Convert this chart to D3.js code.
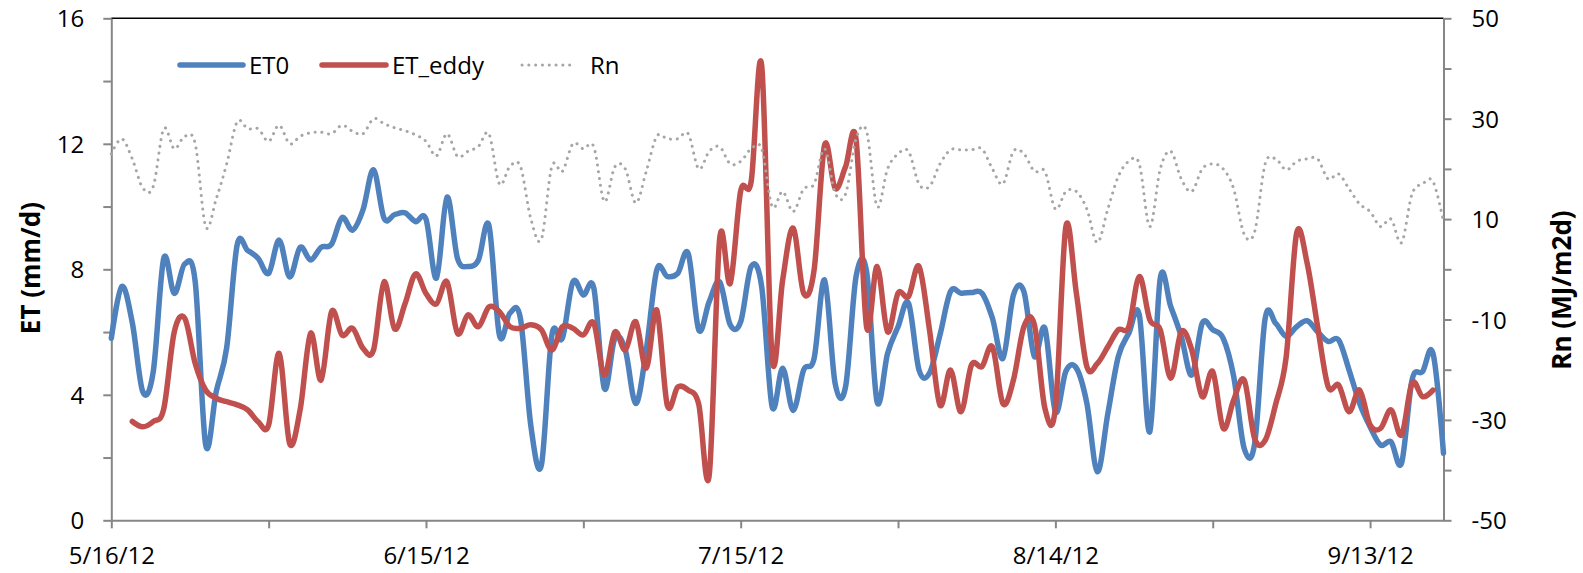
<!DOCTYPE html>
<html>
<head>
<meta charset="utf-8">
<script src="https://cdn.jsdelivr.net/npm/d3@7"></script>
<style>
  body { margin: 0; background: #fff; }
  text { font-family: "Open Sans", "Liberation Sans", sans-serif; fill: #000; }
</style>
</head>
<body>
<svg id="chart" width="1583" height="573"></svg>
<script>
// daily series, 5/16/12 .. 9/20/12
const startDate = Date.UTC(2012, 4, 16);
const endDate = Date.UTC(2012, 8, 20);

const et0 = [
  5.8, 7.45, 6.3, 4.1, 4.74, 8.35, 7.23, 8.17, 7.6, 2.4,
  4.1, 5.5, 8.78, 8.6, 8.35, 7.87, 8.93, 7.76, 8.7, 8.3,
  8.7, 8.8, 9.65, 9.25, 9.9, 11.17, 9.63, 9.74, 9.8, 9.52,
  9.6, 7.72, 10.3, 8.35, 8.09, 8.3, 9.4, 5.9, 6.6, 6.44,
  3.0, 1.76, 5.9, 5.8, 7.6, 7.18, 7.4, 4.2, 5.8, 5.43,
  3.72, 5.43, 7.98, 7.77, 7.87, 8.5, 6.07, 6.97, 7.6, 6.23,
  6.33, 8.09, 7.45, 3.62, 4.85, 3.5, 4.79, 5.16, 7.66, 4.37,
  4.26, 7.77, 7.93, 3.78, 5.32, 6.17, 6.92, 4.79, 4.69, 5.91,
  7.29, 7.24, 7.26, 7.24, 6.44, 5.16, 7.18, 7.29, 5.22, 6.12,
  3.46, 4.75, 4.85, 3.73, 1.55, 3.4, 5.22, 5.96, 6.55, 2.82,
  7.72, 6.81, 5.86, 4.63, 6.28, 6.07, 5.8, 4.58, 2.29, 2.45,
  6.44, 6.28, 5.86, 6.17, 6.36, 6.01, 5.7, 5.75, 4.79, 3.73,
  2.98, 2.4, 2.5, 1.82, 4.47, 4.74, 5.32, 2.14
];

const etEddy = [
  null, null, 3.15, 2.98, 3.15, 3.55, 6.0, 6.44, 5.0, 4.15,
  3.89, 3.78, 3.68, 3.52, 3.14, 3.04, 5.32, 2.45, 3.52, 5.96,
  4.47, 6.65, 5.9, 6.12, 5.48, 5.43, 7.6, 6.1, 6.9, 7.85,
  7.23, 6.9, 7.6, 5.96, 6.55, 6.17, 6.8, 6.65, 6.17, 6.12,
  6.23, 6.07, 5.43, 6.17, 6.12, 5.91, 6.28, 4.63, 6.0, 5.43,
  6.33, 4.85, 6.7, 3.67, 4.25, 4.15, 3.7, 1.44, 8.99, 7.55,
  10.5, 10.8, 14.5, 5.16, 7.66, 9.31, 7.24, 7.98, 11.96, 10.58,
  11.27, 12.13, 6.17, 8.09, 6.01, 7.24, 7.13, 8.09, 6.07, 3.67,
  4.79, 3.46, 4.95, 4.9, 5.53, 3.72, 4.47, 6.17, 6.23, 3.57,
  3.57, 9.36, 7.24, 4.9, 5.0, 5.53, 6.07, 6.17, 7.77, 6.39,
  6.07, 4.53, 6.01, 5.43, 3.94, 4.74, 2.93, 3.84, 4.47, 2.6,
  2.55, 3.7, 5.2, 9.15, 8.2, 6.17, 4.26, 4.31, 3.46, 4.15,
  3.04, 2.93, 3.52, 2.72, 4.37, 3.94, 4.15, null
];

const rn = [
  23, 26, 22, 16.2, 16.5, 28, 24, 26.5, 25, 8.5,
  14, 21, 29.4, 28, 28, 25.5, 28.7, 25, 26.5, 27.2,
  27.3, 27, 28.7, 27.5, 27, 30, 29, 28.2, 27.6, 26.8,
  25.5, 22.6, 27, 22.5, 23.5, 24.5, 27, 17, 20.5, 20.5,
  10, 6, 20.5, 19.5, 25, 24, 24.4, 13.5, 20.4, 20,
  13.2, 19.5, 26.5, 26, 26, 27, 20, 23.5, 24.4, 21,
  21.5, 24, 24, 12.5, 15.5, 11.5, 16, 17, 24, 15.2,
  15, 26, 27.5, 12.5, 20, 23, 23.5, 17, 16.5, 21,
  23.8, 23.8, 23.8, 24, 20, 17, 23.5, 23, 19.5, 19.5,
  12, 15.5, 15.5, 12, 5.3, 12, 18.5, 21.5, 21, 8.5,
  20, 23.5, 18, 15.5, 20, 21, 20, 16, 7, 7.5,
  21, 22, 19.8, 21.5, 22, 22, 18, 19, 16, 13,
  11.5, 8.5, 10, 5.3, 15, 17, 17.5, 9.5
];

const seriesNames = ['ET0', 'ET_eddy', 'Rn'];
const etTicks = [0, 2, 4, 6, 8, 10, 12, 14, 16];
const rnTicks = [-50, -40, -30, -20, -10, 0, 10, 20, 30, 40, 50];

const svg = d3.select('#chart');
const plotLeft = 111.3, plotRight = 1443.5, plotTop = 18.3, plotBottom = 520.3;
const axisColor = '#868686';

const dayOf = i => d3.utcDay.offset(new Date(startDate), i);

const xScale = d3.scaleUtc()
    .domain([new Date(startDate), new Date(endDate)])
    .range([plotLeft, plotRight]);
const yEt = d3.scaleLinear().domain([0, 16]).range([plotBottom, plotTop]);
const yRn = d3.scaleLinear().domain([-50, 50]).range([plotBottom, plotTop]);

svg.append('rect').attr('width', 1583).attr('height', 573).attr('fill', '#fff');

// top border of the plot area
svg.append('line')
    .attr('x1', plotLeft).attr('x2', plotRight)
    .attr('y1', plotTop).attr('y2', plotTop)
    .attr('stroke', '#000').attr('stroke-width', 1.5);

// x axis, tick every 15 days, label every 30
const xTicks = d3.range(0, 121, 15).map(dayOf);
const xAxis = svg.append('g')
    .attr('transform', `translate(0,${plotBottom})`)
    .call(d3.axisBottom(xScale)
        .tickValues(xTicks)
        .tickSize(8)
        .tickSizeOuter(0)
        .tickFormat((d, i) => i % 2 === 0 ? d3.utcFormat('%-m/%-d/%y')(d) : ''));
xAxis.selectAll('text').attr('y', 44).attr('dy', 0).style('font-size', '24px');

// left axis
const yAxisL = svg.append('g')
    .attr('transform', `translate(${plotLeft},0)`)
    .call(d3.axisLeft(yEt)
        .tickValues(etTicks)
        .tickSize(8)
        .tickSizeOuter(0)
        .tickPadding(19)
        .tickFormat(d => d % 4 === 0 ? d : ''));
yAxisL.selectAll('text').attr('dy', '0.36em').style('font-size', '24px');

// right axis
const yAxisR = svg.append('g')
    .attr('transform', `translate(${plotRight},0)`)
    .call(d3.axisRight(yRn)
        .tickValues(rnTicks)
        .tickSize(8)
        .tickSizeOuter(0)
        .tickPadding(20)
        .tickFormat(d => (d + 50) % 20 === 0 ? d : ''));
yAxisR.selectAll('text').attr('dy', '0.36em').style('font-size', '24px');

svg.selectAll('.domain, .tick line')
    .attr('stroke', axisColor)
    .attr('stroke-width', 2);

// axis titles
svg.append('text')
    .attr('transform', 'translate(40,268) rotate(-90)')
    .attr('text-anchor', 'middle')
    .style('font-size', '26px').style('font-weight', 'bold')
    .text('ET (mm/d)');
svg.append('text')
    .attr('transform', 'translate(1571,290) rotate(-90)')
    .attr('text-anchor', 'middle')
    .style('font-size', '26px').style('font-weight', 'bold')
    .text('Rn (MJ/m2d)');

// series
const lineEt = d3.line()
    .defined(d => d != null)
    .x((d, i) => xScale(dayOf(i)))
    .y(d => yEt(d))
    .curve(d3.curveCardinal);
const lineRn = d3.line()
    .x((d, i) => xScale(dayOf(i)))
    .y(d => yRn(d))
    .curve(d3.curveCardinal);

const styles = [
    { color: '#4F81BD', width: 5.5, dash: null },
    { color: '#C0504D', width: 5.5, dash: null },
    { color: '#A6A6A6', width: 3, dash: '0.1 6.7' }
];

svg.append('path').datum(et0)
    .attr('d', lineEt)
    .attr('fill', 'none')
    .attr('stroke', styles[0].color)
    .attr('stroke-width', styles[0].width)
    .attr('stroke-linejoin', 'round').attr('stroke-linecap', 'round');

svg.append('path').datum(etEddy)
    .attr('d', lineEt)
    .attr('fill', 'none')
    .attr('stroke', styles[1].color)
    .attr('stroke-width', styles[1].width)
    .attr('stroke-linejoin', 'round').attr('stroke-linecap', 'round');

svg.append('path').datum(rn)
    .attr('d', lineRn)
    .attr('fill', 'none')
    .attr('stroke', styles[2].color)
    .attr('stroke-width', styles[2].width)
    .attr('stroke-dasharray', styles[2].dash)
    .attr('stroke-linecap', 'round');

// legend
const legendPos = [180, 322, 522];
const legendLen = [63, 64, 51];
const legend = svg.append('g');
seriesNames.forEach((name, i) => {
    const s = styles[i];
    legend.append('line')
        .attr('x1', legendPos[i]).attr('x2', legendPos[i] + legendLen[i])
        .attr('y1', 65).attr('y2', 65)
        .attr('stroke', s.color)
        .attr('stroke-width', s.width)
        .attr('stroke-linecap', 'round')
        .attr('stroke-dasharray', s.dash);
    legend.append('text')
        .attr('x', legendPos[i] + legendLen[i] + (i === 2 ? 17 : 6))
        .attr('y', 65)
        .attr('dy', '0.36em')
        .style('font-size', '24px')
        .text(name);
});
</script>
</body>
</html>
